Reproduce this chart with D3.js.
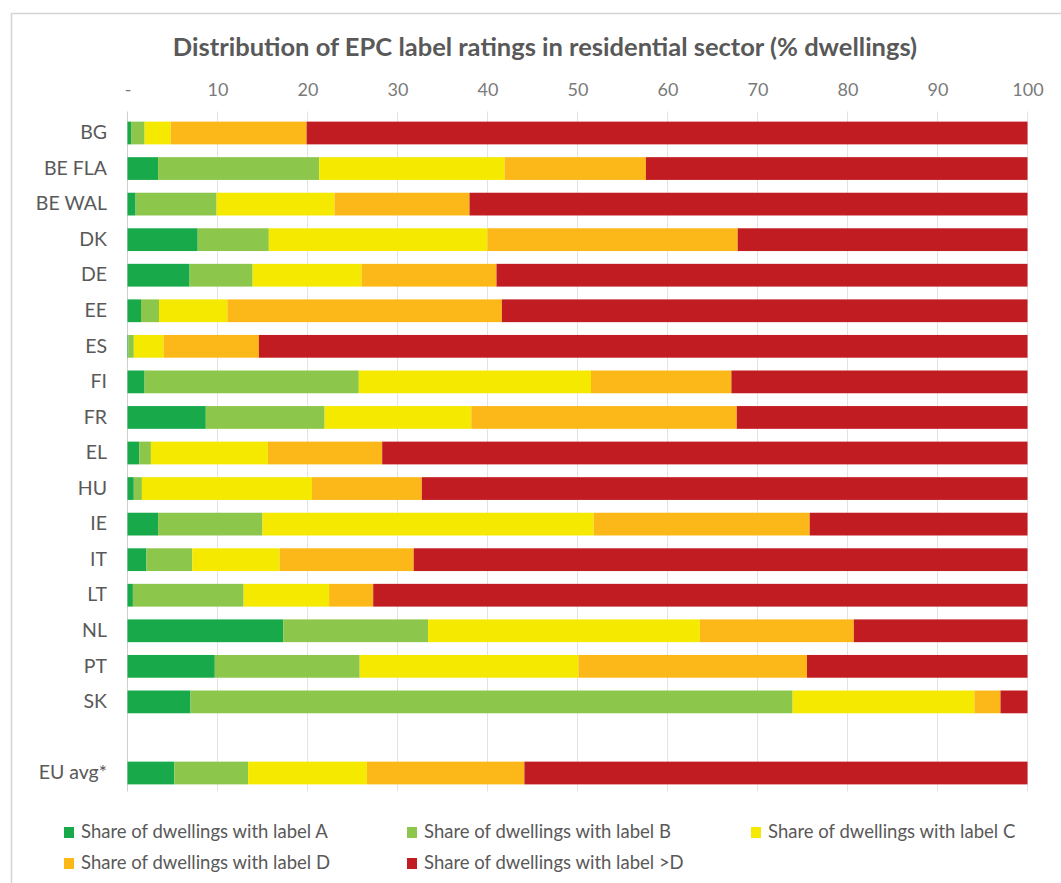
<!DOCTYPE html>
<html>
<head>
<meta charset="utf-8">
<script src="https://cdn.jsdelivr.net/npm/d3@7"></script>
<style>
  body { margin: 0; background: #fff; }
  text { font-family: Lato, "Open Sans", sans-serif; }
</style>
</head>
<body>
<div id="chart"></div>
<script>
// categories, top to bottom ("EU avg*" sits below a blank row)
var countries = ["BG", "BE FLA", "BE WAL", "DK", "DE", "EE", "ES", "FI", "FR",
                 "EL", "HU", "IE", "IT", "LT", "NL", "PT", "SK", "EU avg*"];

// % of dwellings per label
var labelA  = [0.4, 3.4, 0.9, 7.8, 6.9, 1.5, 0.1, 1.9, 8.7, 1.3, 0.7, 3.4, 2.1, 0.6, 17.3, 9.7, 7.0, 5.2];
var labelB  = [1.5, 17.9, 9.0, 7.9, 7.0, 2.0, 0.6, 23.8, 13.2, 1.3, 0.9, 11.6, 5.1, 12.3, 16.1, 16.1, 66.9, 8.2];
var labelC  = [2.9, 20.6, 13.1, 24.3, 12.1, 7.6, 3.3, 25.8, 16.3, 13.0, 18.9, 36.8, 9.7, 9.5, 30.2, 24.3, 20.2, 13.2];
var labelD  = [15.1, 15.7, 15.0, 27.8, 15.0, 30.5, 10.6, 15.6, 29.5, 12.7, 12.2, 24.0, 14.9, 4.9, 17.1, 25.4, 2.9, 17.5];
var labelGtD = [80.1, 42.4, 62.0, 32.2, 59.0, 58.4, 85.4, 32.9, 32.3, 71.7, 67.3, 24.2, 68.2, 72.7, 19.3, 24.5, 3.0, 55.9];

var seriesNames = ["Share of dwellings with label A", "Share of dwellings with label B",
                   "Share of dwellings with label C", "Share of dwellings with label D",
                   "Share of dwellings with label >D"];
var seriesColors = ["#18a94b", "#8cc64a", "#f5e900", "#fcb818", "#c11c21"];
var xTicks = [0, 10, 20, 30, 40, 50, 60, 70, 80, 90, 100];

var W = 1061, H = 883;
var svg = d3.select("#chart").append("svg")
    .attr("width", W)
    .attr("height", H);

// chart frame (only left and top edges fall inside the shot)
svg.append("rect")
    .attr("x", 11.5).attr("y", 13.5)
    .attr("width", W + 20).attr("height", H + 20)
    .attr("fill", "#fff")
    .attr("stroke", "#d4d4d4")
    .attr("stroke-width", 1.5);

svg.append("text")
    .attr("x", 545).attr("y", 56)
    .attr("text-anchor", "middle")
    .attr("font-size", 25.5)
    .attr("font-weight", "bold")
    .attr("fill", "#595959")
    .text("Distribution of EPC label ratings in residential sector (% dwellings)");

// build rows, with a spacer slot before the EU average
var rows = countries.map(function(c, i) {
  return { name: c, vals: [labelA[i], labelB[i], labelC[i], labelD[i], labelGtD[i]] };
});
var domain = countries.slice(0, -1).concat(["__gap"], countries.slice(-1));

var x = d3.scaleLinear().domain([0, 100]).range([127.5, 1027.5]);
var y = d3.scaleBand().domain(domain).range([114.5, 791.5])
    .paddingInner(0.36).paddingOuter(0.2);

// gridlines
svg.append("g").selectAll("line")
  .data(xTicks)
  .enter().append("line")
    .attr("x1", function(d) { return x(d); })
    .attr("x2", function(d) { return x(d); })
    .attr("y1", 111.5)
    .attr("y2", y.range()[1])
    .attr("stroke", function(d) { return d == 0 ? "#cfcfcf" : "#e3e3e3"; })
    .attr("stroke-width", 1);

// top axis labels
var xAxis = d3.axisTop(x).tickValues(xTicks)
    .tickSize(0).tickPadding(0)
    .tickFormat(function(d) { return d == 0 ? "-" : d; });
var gx = svg.append("g")
    .attr("transform", "translate(0,96)")
    .call(xAxis);
gx.select(".domain").remove();
gx.selectAll("text")
    .attr("font-family", "Lato, sans-serif")
    .attr("font-size", 18)
    .attr("fill", "#7a7a7a");

// category labels
var yAxis = d3.axisLeft(y).tickSize(0).tickPadding(0)
    .tickFormat(function(d) { return d == "__gap" ? "" : d; });
var gy = svg.append("g")
    .attr("transform", "translate(107,0)")
    .call(yAxis);
gy.select(".domain").remove();
gy.selectAll("text")
    .attr("font-family", "Lato, sans-serif")
    .attr("font-size", 19.5)
    .attr("fill", "#595959");

// stacked bars
var rowG = svg.append("g").selectAll("g")
  .data(rows)
  .enter().append("g")
    .attr("transform", function(d) { return "translate(0," + y(d.name) + ")"; });

rowG.selectAll("rect")
  .data(function(d) {
    var acc = 0;
    return d.vals.map(function(v, k) {
      var s = { x0: acc, x1: acc + v, k: k };
      acc += v;
      return s;
    });
  })
  .enter().append("rect")
    .attr("x", function(d) { return x(d.x0); })
    .attr("width", function(d) { return Math.max(0, x(Math.min(d.x1, 100)) - x(d.x0)); })
    .attr("height", y.bandwidth())
    .attr("fill", function(d) { return seriesColors[d.k]; });

// legend
var legendPos = [[64, 832], [407, 832], [751, 832], [64, 863], [407, 863]];
var leg = svg.append("g").selectAll("g")
  .data(seriesNames)
  .enter().append("g")
    .attr("transform", function(d, i) { return "translate(" + legendPos[i][0] + "," + legendPos[i][1] + ")"; });
leg.append("rect")
    .attr("x", 0).attr("y", -5)
    .attr("width", 10).attr("height", 11)
    .attr("fill", function(d, i) { return seriesColors[i]; });
leg.append("text")
    .attr("x", 17).attr("y", 0)
    .attr("dy", "0.35em")
    .attr("font-size", 18.5)
    .attr("fill", "#595959")
    .text(function(d) { return d; });
</script>
</body>
</html>
